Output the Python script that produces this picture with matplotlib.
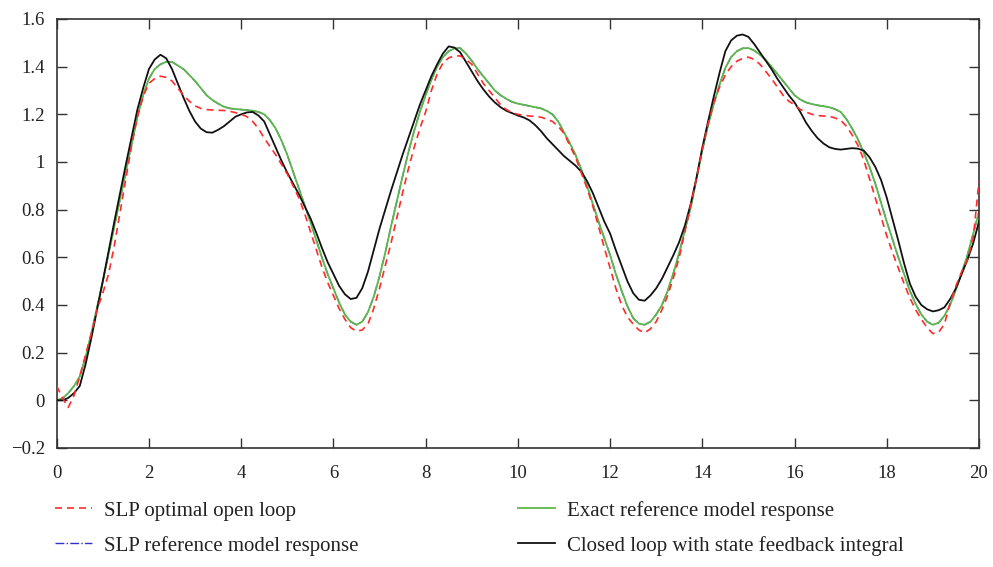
import numpy as np
import matplotlib
matplotlib.use("Agg")
import matplotlib.pyplot as plt
from matplotlib.ticker import FuncFormatter

# time grid (s)
t = np.arange(0, 20.0001, 0.125)

# SLP optimal open loop (red dashed)
slp_open = [
    0.06, 0.01, -0.03, 0.02, 0.10, 0.19, 0.28, 0.38, 0.45, 0.53, 0.65, 0.79, 0.93, 1.07, 1.19, 1.275,
    1.33, 1.35, 1.36, 1.355, 1.34, 1.31, 1.28, 1.255, 1.235, 1.225, 1.22, 1.218, 1.217, 1.216, 1.213, 1.207,
    1.20, 1.19, 1.17, 1.14, 1.10, 1.065, 1.03, 0.99, 0.95, 0.90, 0.85, 0.785, 0.71, 0.635, 0.56, 0.495,
    0.44, 0.385, 0.34, 0.305, 0.29, 0.295, 0.32, 0.385, 0.47, 0.565, 0.66, 0.765, 0.87, 0.97, 1.06, 1.14,
    1.21, 1.30, 1.37, 1.415, 1.437, 1.445, 1.445, 1.43, 1.41, 1.37, 1.33, 1.30, 1.27, 1.24, 1.22, 1.207,
    1.20, 1.196, 1.193, 1.191, 1.188, 1.18, 1.17, 1.15, 1.12, 1.07, 1.02, 0.955, 0.89, 0.815, 0.73, 0.64,
    0.555, 0.47, 0.40, 0.35, 0.32, 0.295, 0.283, 0.30, 0.33, 0.38, 0.44, 0.515, 0.60, 0.71, 0.82, 0.935,
    1.05, 1.16, 1.25, 1.315, 1.365, 1.40, 1.423, 1.435, 1.44, 1.43, 1.41, 1.38, 1.35, 1.315, 1.28, 1.255,
    1.24, 1.22, 1.21, 1.20, 1.195, 1.193, 1.192, 1.185, 1.175, 1.15, 1.113, 1.07, 1.01, 0.93, 0.85, 0.77,
    0.69, 0.62, 0.555, 0.49, 0.43, 0.38, 0.34, 0.305, 0.28, 0.285, 0.32, 0.41, 0.48, 0.54, 0.59, 0.68,
    0.92]

# Exact reference model response (green)
exact_ref = [
    0.0, 0.008, 0.03, 0.06, 0.10, 0.18, 0.28, 0.39, 0.50, 0.615, 0.73, 0.845, 0.96, 1.075, 1.19, 1.28,
    1.35, 1.39, 1.41, 1.42, 1.42, 1.405, 1.39, 1.365, 1.34, 1.31, 1.28, 1.26, 1.245, 1.232, 1.225, 1.222,
    1.22, 1.218, 1.215, 1.21, 1.20, 1.175, 1.14, 1.09, 1.03, 0.96, 0.89, 0.82, 0.75, 0.675, 0.60, 0.53,
    0.47, 0.41, 0.36, 0.33, 0.317, 0.33, 0.37, 0.435, 0.52, 0.62, 0.73, 0.835, 0.94, 1.04, 1.13, 1.21,
    1.28, 1.345, 1.40, 1.44, 1.465, 1.477, 1.478, 1.455, 1.425, 1.39, 1.36, 1.33, 1.30, 1.28, 1.265, 1.252,
    1.245, 1.24, 1.235, 1.23, 1.225, 1.215, 1.20, 1.17, 1.125, 1.08, 1.03, 0.97, 0.90, 0.825, 0.75, 0.68,
    0.61, 0.53, 0.46, 0.395, 0.345, 0.322, 0.317, 0.33, 0.36, 0.40, 0.46, 0.535, 0.62, 0.715, 0.81, 0.93,
    1.05, 1.155, 1.245, 1.325, 1.395, 1.44, 1.465, 1.477, 1.478, 1.468, 1.45, 1.428, 1.40, 1.37, 1.34, 1.31,
    1.28, 1.262, 1.25, 1.243, 1.238, 1.234, 1.23, 1.222, 1.21, 1.18, 1.14, 1.095, 1.04, 0.98, 0.91, 0.83,
    0.75, 0.675, 0.60, 0.53, 0.46, 0.405, 0.36, 0.33, 0.317, 0.325, 0.355, 0.40, 0.465, 0.535, 0.61, 0.70,
    0.79]

# SLP reference model response (blue dash-dot, hidden under the green curve)
slp_ref = list(exact_ref)

# Closed loop with state feedback integral (black)
closed_loop = [
    0.0, 0.0, 0.01, 0.03, 0.06, 0.15, 0.26, 0.38, 0.50, 0.625, 0.75, 0.87, 0.99, 1.105, 1.22, 1.31,
    1.39, 1.43, 1.45, 1.435, 1.39, 1.33, 1.27, 1.215, 1.17, 1.14, 1.125, 1.123, 1.135, 1.15, 1.17, 1.19,
    1.20, 1.208, 1.21, 1.195, 1.17, 1.115, 1.06, 1.005, 0.955, 0.91, 0.865, 0.815, 0.765, 0.705, 0.64, 0.58,
    0.53, 0.48, 0.445, 0.425, 0.43, 0.47, 0.54, 0.63, 0.72, 0.80, 0.88, 0.955, 1.03, 1.10, 1.17, 1.24,
    1.30, 1.36, 1.41, 1.455, 1.485, 1.48, 1.46, 1.42, 1.38, 1.34, 1.305, 1.275, 1.25, 1.23, 1.215, 1.205,
    1.195, 1.187, 1.175, 1.155, 1.13, 1.10, 1.075, 1.05, 1.025, 1.005, 0.985, 0.96, 0.92, 0.87, 0.81, 0.75,
    0.70, 0.63, 0.565, 0.50, 0.45, 0.422, 0.418, 0.44, 0.47, 0.51, 0.56, 0.61, 0.665, 0.735, 0.825, 0.935,
    1.06, 1.17, 1.275, 1.375, 1.465, 1.51, 1.53, 1.535, 1.525, 1.495, 1.46, 1.425, 1.39, 1.35, 1.315, 1.28,
    1.25, 1.21, 1.165, 1.13, 1.10, 1.078, 1.062, 1.055, 1.052, 1.055, 1.058, 1.056, 1.048, 1.02, 0.98, 0.925,
    0.85, 0.76, 0.67, 0.575, 0.49, 0.435, 0.40, 0.382, 0.373, 0.378, 0.39, 0.425, 0.47, 0.53, 0.59, 0.66,
    0.75]

labels = ["SLP optimal open loop", "SLP reference model response",
          "Exact reference model response", "Closed loop with state feedback integral"]
x_ticks = list(range(0, 21, 2))
y_ticks = [-0.2, 0, 0.2, 0.4, 0.6, 0.8, 1.0, 1.2, 1.4, 1.6]

plt.rcParams['font.family'] = ['Liberation Serif', 'DejaVu Serif']
plt.rcParams['font.size'] = 13.5

fig = plt.figure(figsize=(9.93, 5.67), dpi=100)
ax = fig.add_axes([0.0571, 0.2099, 0.9288, 0.7566])

l_blue, = ax.plot(t, slp_ref, color='#3030cc', lw=1.0, ls='-.', label=labels[1], zorder=2)
l_green, = ax.plot(t, exact_ref, color='#5cb848', lw=1.3, label=labels[2], zorder=2.5)
l_black, = ax.plot(t, closed_loop, color='#111111', lw=1.3, label=labels[3], zorder=2.6)
l_red, = ax.plot(t, slp_open, color='#ff2a2a', lw=1.2, ls=(0, (4.2, 3.0)), label=labels[0], zorder=3)

ax.set_xlim(0, 20)
ax.set_ylim(-0.2, 1.6)
ax.set_xticks(x_ticks)
ax.set_yticks(y_ticks)
ax.yaxis.set_major_formatter(FuncFormatter(lambda v, p: ('%g' % round(v, 2)).replace('-', '\u2212')))
ax.tick_params(direction='in', length=7, width=1.0, top=True, right=True, colors='#333333',
               labelcolor='#222222', labelsize=13.5)
ax.tick_params(axis='y', pad=8.5)
ax.tick_params(axis='x', pad=12)
for s in ax.spines.values():
    s.set_linewidth(1.2)
    s.set_color('#333333')

leg = fig.legend(handles=[l_red, l_blue, l_green, l_black], labels=labels, ncol=2,
                 loc='upper left', bbox_to_anchor=(0.037, 0.15), frameon=False,
                 handlelength=1.75, handletextpad=0.6, columnspacing=7.65, labelspacing=0.72,
                 fontsize=15)
for txt in leg.get_texts():
    txt.set_color('#222222')

fig.savefig('out.png', dpi=100)
